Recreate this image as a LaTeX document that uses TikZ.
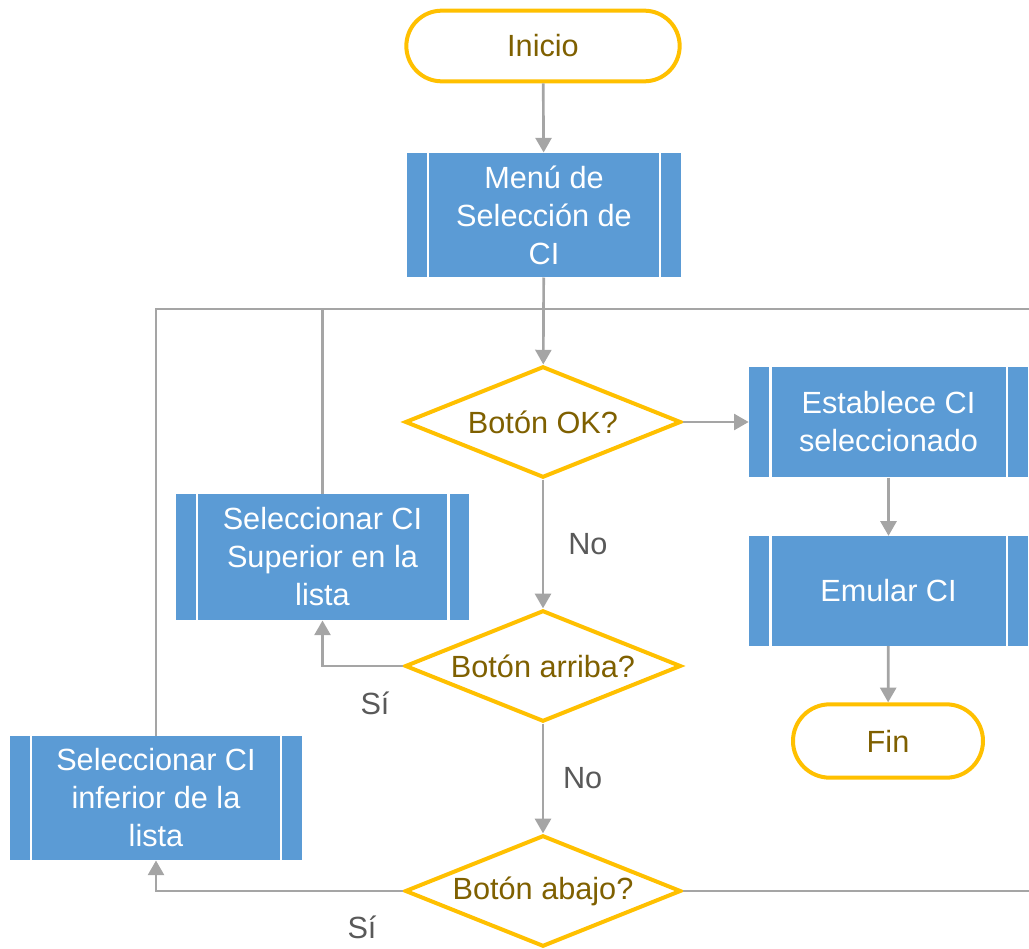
\documentclass[tikz,border=0pt]{standalone}
\usepackage{fontspec}
\setmainfont{Liberation Sans}
\usetikzlibrary{shapes.geometric,arrows.meta}

\definecolor{procblue}{RGB}{91,155,213}
\definecolor{termgold}{RGB}{255,192,0}
\definecolor{textgold}{RGB}{127,96,0}
\definecolor{linegray}{RGB}{165,165,165}
\definecolor{labelgray}{RGB}{89,89,89}

\tikzset{every picture/.style={line width=0.75pt}}
\tikzset{
  terminal/.style={draw=termgold, line width=3pt, fill=white, text=textgold, inner sep=0pt,
    font=\fontsize{23}{28.5}\selectfont},
  decision/.style={diamond, aspect=2.5, draw=termgold, line width=3pt, fill=white, text=textgold,
    inner sep=0pt, minimum width=207pt, minimum height=83.5pt, font=\fontsize{23}{28.5}\selectfont},
  process/.style={fill=procblue, text=white, align=center, inner sep=0pt,
    font=\fontsize{23}{28.5}\selectfont,
    path picture={
      \draw[white, line width=2pt] ([xshift=15.75pt]path picture bounding box.north west) -- ([xshift=15.75pt]path picture bounding box.south west);
      \draw[white, line width=2pt] ([xshift=-15.75pt]path picture bounding box.north east) -- ([xshift=-15.75pt]path picture bounding box.south east);
    }},
  flow/.style={draw=linegray, line width=2pt, -{Triangle[width=12pt,length=11pt]}},
  link/.style={draw=linegray, line width=2pt},
  answer/.style={text=labelgray, inner sep=0pt, font=\fontsize{23}{28.5}\selectfont}
}

\begin{document}
\begin{tikzpicture}[x=0.75pt,y=0.75pt,yscale=-1]
\useasboundingbox (0,0) rectangle (1029,949);

%Terminals
\node[terminal, minimum width=205pt, minimum height=53pt, rounded corners=26.5pt] (start) at (543,46) {Inicio};
\node[terminal, minimum width=142.5pt, minimum height=55pt, rounded corners=27.5pt] (stop) at (888,741) {Fin};

%Predefined processes
\node[process, minimum width=205.5pt, minimum height=93pt] (menu) at (544,215) {Menú de\\Selección de\\CI};
\node[process, minimum width=209pt, minimum height=82.5pt] (est) at (888.5,422) {Establece CI\\seleccionado};
\node[process, minimum width=209pt, minimum height=82pt] (emu) at (888.5,591) {Emular CI};
\node[process, minimum width=220pt, minimum height=94.5pt] (sup) at (322.5,557) {Seleccionar CI\\Superior en la\\lista};
\node[process, minimum width=219pt, minimum height=93pt] (inf) at (156,798) {Seleccionar CI\\inferior de la\\lista};

%Decisions
\node[decision] (okq) at (543,422) {Botón OK?};
\node[decision] (upq) at (543,666) {Botón arriba?};
\node[decision] (downq) at (543,891) {Botón abajo?};

%Loop ends
\coordinate (loopE) at (1029,309);

%Straight Lines
\draw[flow] (start) -- (menu);
\draw[flow] (menu) -- (okq);
\draw[flow] (okq) -- (est);
\draw[flow] (est) -- (emu);
\draw[flow] (emu) -- (stop);
\draw[flow] (okq) -- node[answer, right=18pt] (noa) {No} (upq);
\draw[flow] (upq) -- node[answer, right=14pt] (nob) {No} (downq);
\draw[flow] (upq.west) -| (sup.south);
\draw[flow] (downq.west) -| (inf.south);
\draw[link] (downq.east) -- (downq.east -| loopE);
\draw[link] (loopE) -- (loopE -| inf.north) -- (inf.north);
\draw[link] (sup.north) -- (sup.north |- loopE);

% Text Node
\node[answer] (siup) at (375,703) {Sí};
% Text Node
\node[answer] (sidown) at (362,927) {Sí};

\end{tikzpicture}
\end{document}
